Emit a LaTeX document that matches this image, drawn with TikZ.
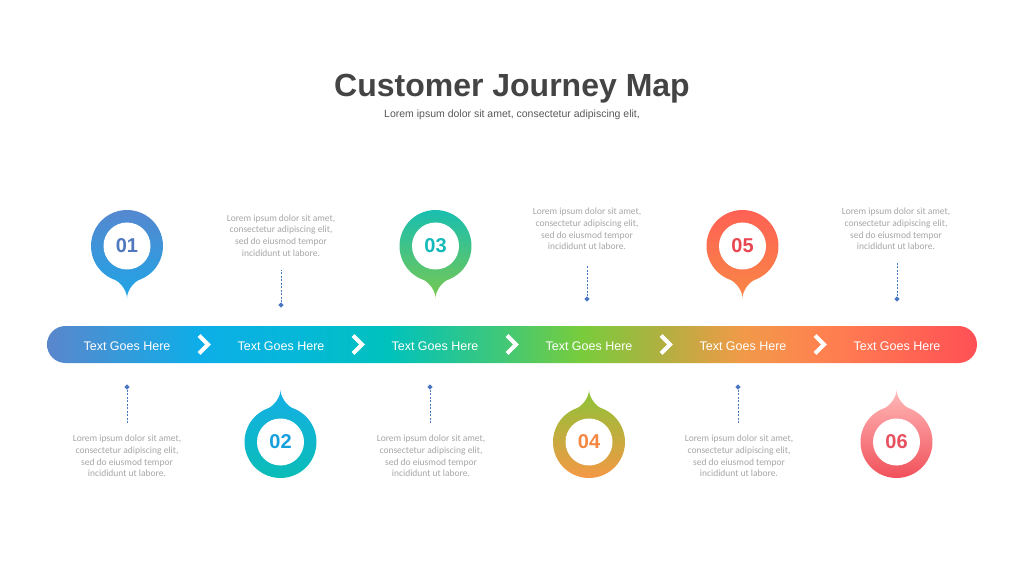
\documentclass[tikz,border=0pt]{standalone}
\usepackage{fontspec}
\setmainfont{Liberation Sans}
\newfontfamily\loremfont{Carlito}
\usepackage{tikz}
\usetikzlibrary{calc,shapes.geometric}

\definecolor{titlegray}{HTML}{444444}
\definecolor{subgray}{HTML}{595959}
\definecolor{loremgray}{HTML}{A6A6A6}
\definecolor{dashblue}{HTML}{4A78C0}

\definecolor{barA}{RGB}{91,134,204}
\definecolor{barB}{RGB}{13,174,232}
\definecolor{barC}{RGB}{5,184,216}
\definecolor{barD}{RGB}{0,194,188}
\definecolor{barE}{RGB}{64,200,120}
\definecolor{barF}{RGB}{120,204,60}
\definecolor{barG}{RGB}{176,176,64}
\definecolor{barH}{RGB}{240,154,72}
\definecolor{barI}{RGB}{255,130,80}
\definecolor{barJ}{RGB}{255,80,85}

\definecolor{pinAtop}{HTML}{5886CE}\definecolor{pinAbot}{HTML}{1EA5E6}\definecolor{numA}{HTML}{5078BE}
\definecolor{pinBtop}{HTML}{14AFE6}\definecolor{pinBbot}{HTML}{0ABEB4}\definecolor{numB}{HTML}{14A0DC}
\definecolor{pinCtop}{HTML}{14BEB4}\definecolor{pinCbot}{HTML}{78C850}\definecolor{numC}{HTML}{14B9B9}
\definecolor{pinDtop}{HTML}{8CC337}\definecolor{pinDbot}{HTML}{FA9646}\definecolor{numD}{HTML}{F58741}
\definecolor{pinEtop}{HTML}{FF5F55}\definecolor{pinEbot}{HTML}{F88746}\definecolor{numE}{HTML}{E84650}
\definecolor{pinFtop}{HTML}{FFB9B9}\definecolor{pinFbot}{HTML}{F04B55}\definecolor{numF}{HTML}{E8505F}

\pgfdeclarehorizontalshading{journeybar}{100bp}{color(0bp)=(barA); color(25bp)=(barA); color(33.2bp)=(barB); color(38.6bp)=(barC); color(43.4bp)=(barD); color(49.4bp)=(barE); color(53.7bp)=(barF); color(58bp)=(barG); color(62.3bp)=(barH); color(66.6bp)=(barI); color(75bp)=(barJ); color(100bp)=(barJ)}

\def\mappin[#1](#2)(#3){\begin{scope}[shift={(#2)}]
	\shade[#1] (0,{-52*(#3)}) .. controls (0,{-45*(#3)}) and (6.5,{-36*(#3)}) .. (12.31,{-33.83*(#3)}) arc ({-70*(#3)}:{250*(#3)}:36) .. controls (-6.5,{-36*(#3)}) and (0,{-45*(#3)}) .. cycle;
	\fill[white] (0,0) circle (23.5);
	\end{scope}}
\def\chevron(#1){\draw[chev] ($(#1)+(-5,9)$) -- ($(#1)+(4,0)$) -- ($(#1)+(-5,-9)$);}

\tikzset{
	pinnum/.style={font=\bfseries\fontsize{20}{20}\selectfont, inner sep=0},
	bartext/.style={anchor=base, text=white, font=\fontsize{12.5}{12.5}\selectfont, inner sep=0},
	lorembox/.style={align=center, text=loremgray, font=\loremfont\fontsize{9.5}{11.7}\selectfont, inner sep=0},
	tick/.style={diamond, fill=dashblue, inner sep=0, minimum size=5.5},
	dashline/.style={draw=dashblue, line width=0.8, dash pattern=on 2 off 1.5},
	chev/.style={white, line width=4, line join=miter}
}

\begin{document}
\begin{tikzpicture}[x=1pt, y=1pt]
		%%%%% START %%%%%
		\useasboundingbox[fill=white] (0,0) rectangle (1024,576);
		
		\node[anchor=base, text=titlegray, font=\bfseries\fontsize{32}{32}\selectfont] (title) at (512,479) {Customer Journey Map};
		\node[anchor=base, text=subgray, font=\fontsize{10.5}{10.5}\selectfont] (subtitle) at (512,458) {Lorem ipsum dolor sit amet, consectetur adipiscing elit,};
		
		% bar
		\shade[shading=journeybar, rounded corners=18.5] (47,213) rectangle (977,250);
		\node[bartext] (s1) at (127,226) {Text Goes Here};
		\node[bartext] (s2) at (281,226) {Text Goes Here};
		\node[bartext] (s3) at (435,226) {Text Goes Here};
		\node[bartext] (s4) at (589,226) {Text Goes Here};
		\node[bartext] (s5) at (743,226) {Text Goes Here};
		\node[bartext] (s6) at (897,226) {Text Goes Here};
		\chevron(204,231.5)
		\chevron(358,231.5)
		\chevron(512,231.5)
		\chevron(666,231.5)
		\chevron(820,231.5)
		
		% pins
		\mappin[top color=pinAtop, bottom color=pinAbot](127,330)(1)
		\node[pinnum, text=numA] (p1) at (127,330) {01};
		\mappin[top color=pinBtop, bottom color=pinBbot](280.5,134)(-1)
		\node[pinnum, text=numB] (p2) at (280.5,134) {02};
		\mappin[top color=pinCtop, bottom color=pinCbot](435.5,330)(1)
		\node[pinnum, text=numC] (p3) at (435.5,330) {03};
		\mappin[top color=pinDtop, bottom color=pinDbot](589,134)(-1)
		\node[pinnum, text=numD] (p4) at (589,134) {04};
		\mappin[top color=pinEtop, bottom color=pinEbot](742.5,330)(1)
		\node[pinnum, text=numE] (p5) at (742.5,330) {05};
		\mappin[top color=pinFtop, bottom color=pinFbot](896.5,134)(-1)
		\node[pinnum, text=numF] (p6) at (896.5,134) {06};
		
		% texts above
		\node[lorembox] (t2) at (281,340.5) {Lorem ipsum dolor sit amet,\\consectetur adipiscing elit,\\sed do eiusmod tempor\\incididunt ut labore.};
		\node[lorembox] (t4) at (587,347) {Lorem ipsum dolor sit amet,\\consectetur adipiscing elit,\\sed do eiusmod tempor\\incididunt ut labore.};
		\node[lorembox] (t6) at (896,347) {Lorem ipsum dolor sit amet,\\consectetur adipiscing elit,\\sed do eiusmod tempor\\incididunt ut labore.};
		\node[tick] (d2) at (281,271) {};
		\coordinate (e2) at (281,306);
		\draw[dashline] (d2) -- (e2);
		\node[tick] (d4) at (587,277) {};
		\coordinate (e4) at (587,311);
		\draw[dashline] (d4) -- (e4);
		\node[tick] (d6) at (897,277) {};
		\coordinate (e6) at (897,313);
		\draw[dashline] (d6) -- (e6);
		
		% texts below
		\node[lorembox] (t1) at (127,120) {Lorem ipsum dolor sit amet,\\consectetur adipiscing elit,\\sed do eiusmod tempor\\incididunt ut labore.};
		\node[lorembox] (t3) at (431,120) {Lorem ipsum dolor sit amet,\\consectetur adipiscing elit,\\sed do eiusmod tempor\\incididunt ut labore.};
		\node[lorembox] (t5) at (739,120) {Lorem ipsum dolor sit amet,\\consectetur adipiscing elit,\\sed do eiusmod tempor\\incididunt ut labore.};
		\node[tick] (d1) at (127,189) {};
		\coordinate (e1) at (127,153);
		\draw[dashline] (d1) -- (e1);
		\node[tick] (d3) at (430,189) {};
		\coordinate (e3) at (430,153);
		\draw[dashline] (d3) -- (e3);
		\node[tick] (d5) at (738,189) {};
		\coordinate (e5) at (738,153);
		\draw[dashline] (d5) -- (e5);
		
		%%%%% END %%%%%
	\end{tikzpicture}
\end{document}
